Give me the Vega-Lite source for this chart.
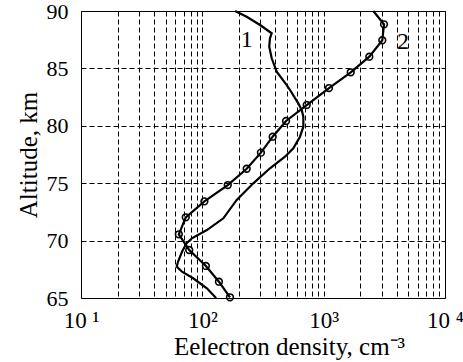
{
  "$schema": "https://vega.github.io/schema/vega-lite/v6.json",
  "width": 364,
  "height": 287,
  "autosize": {"type": "none"},
  "padding": {"left": 81, "top": 11, "right": 18, "bottom": 64},
  "background": "white",
  "config": {
    "font": "Liberation Serif",
    "view": {"stroke": "#000", "strokeWidth": 1},
    "text": {"font": "Liberation Serif"},
    "axis": {
      "domain": false,
      "ticks": false,
      "tickSize": 0,
      "grid": true,
      "gridColor": "#000",
      "gridDash": [5, 3],
      "gridWidth": 1,
      "gridOpacity": 1,
      "labelFont": "Liberation Serif",
      "labelFontSize": 22,
      "labelColor": "#000",
      "titleFont": "Liberation Serif",
      "titleFontSize": 24,
      "titleFontWeight": "normal",
      "titleColor": "#000"
    }
  },
  "datasets": {
    "curve1": [
      {"i": 0, "density": 186, "alt": 90.0},
      {"i": 1, "density": 232, "alt": 89.5},
      {"i": 2, "density": 299, "alt": 88.78},
      {"i": 3, "density": 373, "alt": 88.06},
      {"i": 4, "density": 361, "alt": 87.62},
      {"i": 5, "density": 356, "alt": 86.89},
      {"i": 6, "density": 373, "alt": 85.88},
      {"i": 7, "density": 410, "alt": 84.71},
      {"i": 8, "density": 496, "alt": 83.55},
      {"i": 9, "density": 528, "alt": 83.12},
      {"i": 10, "density": 618, "alt": 81.96},
      {"i": 11, "density": 659, "alt": 81.38},
      {"i": 12, "density": 680, "alt": 80.79},
      {"i": 13, "density": 680, "alt": 79.92},
      {"i": 14, "density": 638, "alt": 79.05},
      {"i": 15, "density": 562, "alt": 78.04},
      {"i": 16, "density": 480, "alt": 77.31},
      {"i": 17, "density": 361, "alt": 76.3},
      {"i": 18, "density": 263, "alt": 74.99},
      {"i": 19, "density": 192, "alt": 73.54},
      {"i": 20, "density": 149, "alt": 71.94},
      {"i": 21, "density": 109, "alt": 70.92},
      {"i": 22, "density": 82, "alt": 70.2},
      {"i": 23, "density": 74, "alt": 69.76},
      {"i": 24, "density": 68, "alt": 69.03},
      {"i": 25, "density": 63, "alt": 68.16},
      {"i": 26, "density": 61.5, "alt": 67.73},
      {"i": 27, "density": 68, "alt": 67.29},
      {"i": 28, "density": 84, "alt": 66.72},
      {"i": 29, "density": 109, "alt": 65.84},
      {"i": 30, "density": 127, "alt": 65.11},
      {"i": 31, "density": 130, "alt": 65.0}
    ],
    "curve2": [
      {"i": 0, "density": 2565, "alt": 90.0, "marked": false},
      {"i": 1, "density": 3143, "alt": 88.84, "marked": true},
      {"i": 2, "density": 3043, "alt": 87.45, "marked": true},
      {"i": 3, "density": 2378, "alt": 86.02, "marked": true},
      {"i": 4, "density": 1671, "alt": 84.66, "marked": true},
      {"i": 5, "density": 1107, "alt": 83.29, "marked": true},
      {"i": 6, "density": 725, "alt": 81.81, "marked": true},
      {"i": 7, "density": 490, "alt": 80.42, "marked": true},
      {"i": 8, "density": 380, "alt": 79.05, "marked": true},
      {"i": 9, "density": 304, "alt": 77.66, "marked": true},
      {"i": 10, "density": 232, "alt": 76.26, "marked": true},
      {"i": 11, "density": 162, "alt": 74.84, "marked": true},
      {"i": 12, "density": 104, "alt": 73.42, "marked": true},
      {"i": 13, "density": 73, "alt": 72.03, "marked": true},
      {"i": 14, "density": 64, "alt": 70.55, "marked": true},
      {"i": 15, "density": 78, "alt": 69.18, "marked": true},
      {"i": 16, "density": 107, "alt": 67.79, "marked": true},
      {"i": 17, "density": 137, "alt": 66.42, "marked": true},
      {"i": 18, "density": 169, "alt": 65.06, "marked": true}
    ],
    "labels": [
      {"label": "1", "density": 232, "alt": 87.45},
      {"label": "2", "density": 4508, "alt": 87.3}
    ]
  },
  "encoding": {
    "x": {
      "field": "density",
      "type": "quantitative",
      "scale": {"type": "log", "domain": [10, 10000], "nice": false},
      "axis": {
        "values": [10, 20, 30, 40, 50, 60, 70, 80, 90, 100, 200, 300, 400, 500, 600, 700, 800, 900, 1000, 2000, 3000, 4000, 5000, 6000, 7000, 8000, 9000, 10000],
        "labelExpr": "datum.value == 10 ? '10 ¹' : datum.value == 100 ? '10²' : datum.value == 1000 ? '10³' : datum.value == 10000 ? '10 ⁴' : ''",
        "labelFont": "Liberation Serif",
        "labelFontSize": 23,
        "labelPadding": 11,
        "labelFlush": false,
        "labelOverlap": false,
        "title": "Eelectron density, cm⁻³",
        "titleFont": "Liberation Serif",
        "titleFontSize": 25,
        "titleX": 208,
        "titleY": 56,
        "titleBaseline": "alphabetic"
      }
    },
    "y": {
      "field": "alt",
      "type": "quantitative",
      "scale": {"domain": [65, 90], "nice": false, "zero": false},
      "axis": {
        "values": [65, 70, 75, 80, 85, 90],
        "labelFont": "Liberation Serif",
        "labelFontSize": 22,
        "labelPadding": 13,
        "labelFlush": false,
        "title": "Altitude, km",
        "titleFont": "Liberation Serif",
        "titleFontSize": 25,
        "titleX": -53,
        "titleY": 143.5,
        "titleBaseline": "middle"
      }
    }
  },
  "layer": [
    {
      "data": {"name": "curve1"},
      "mark": {"type": "line", "color": "#000", "strokeWidth": 2.2},
      "encoding": {"order": {"field": "i", "type": "quantitative"}}
    },
    {
      "data": {"name": "curve2"},
      "mark": {"type": "line", "color": "#000", "strokeWidth": 2.2},
      "encoding": {"order": {"field": "i", "type": "quantitative"}}
    },
    {
      "data": {"name": "curve2"},
      "transform": [{"filter": "datum.marked"}],
      "mark": {"type": "point", "shape": "circle", "filled": false, "stroke": "#000", "strokeWidth": 1.6, "size": 45, "opacity": 1}
    },
    {
      "data": {"name": "labels"},
      "mark": {"type": "text", "font": "Liberation Serif", "fontSize": 24, "color": "#000", "align": "center", "baseline": "middle"},
      "encoding": {"text": {"field": "label", "type": "nominal"}}
    }
  ]
}
